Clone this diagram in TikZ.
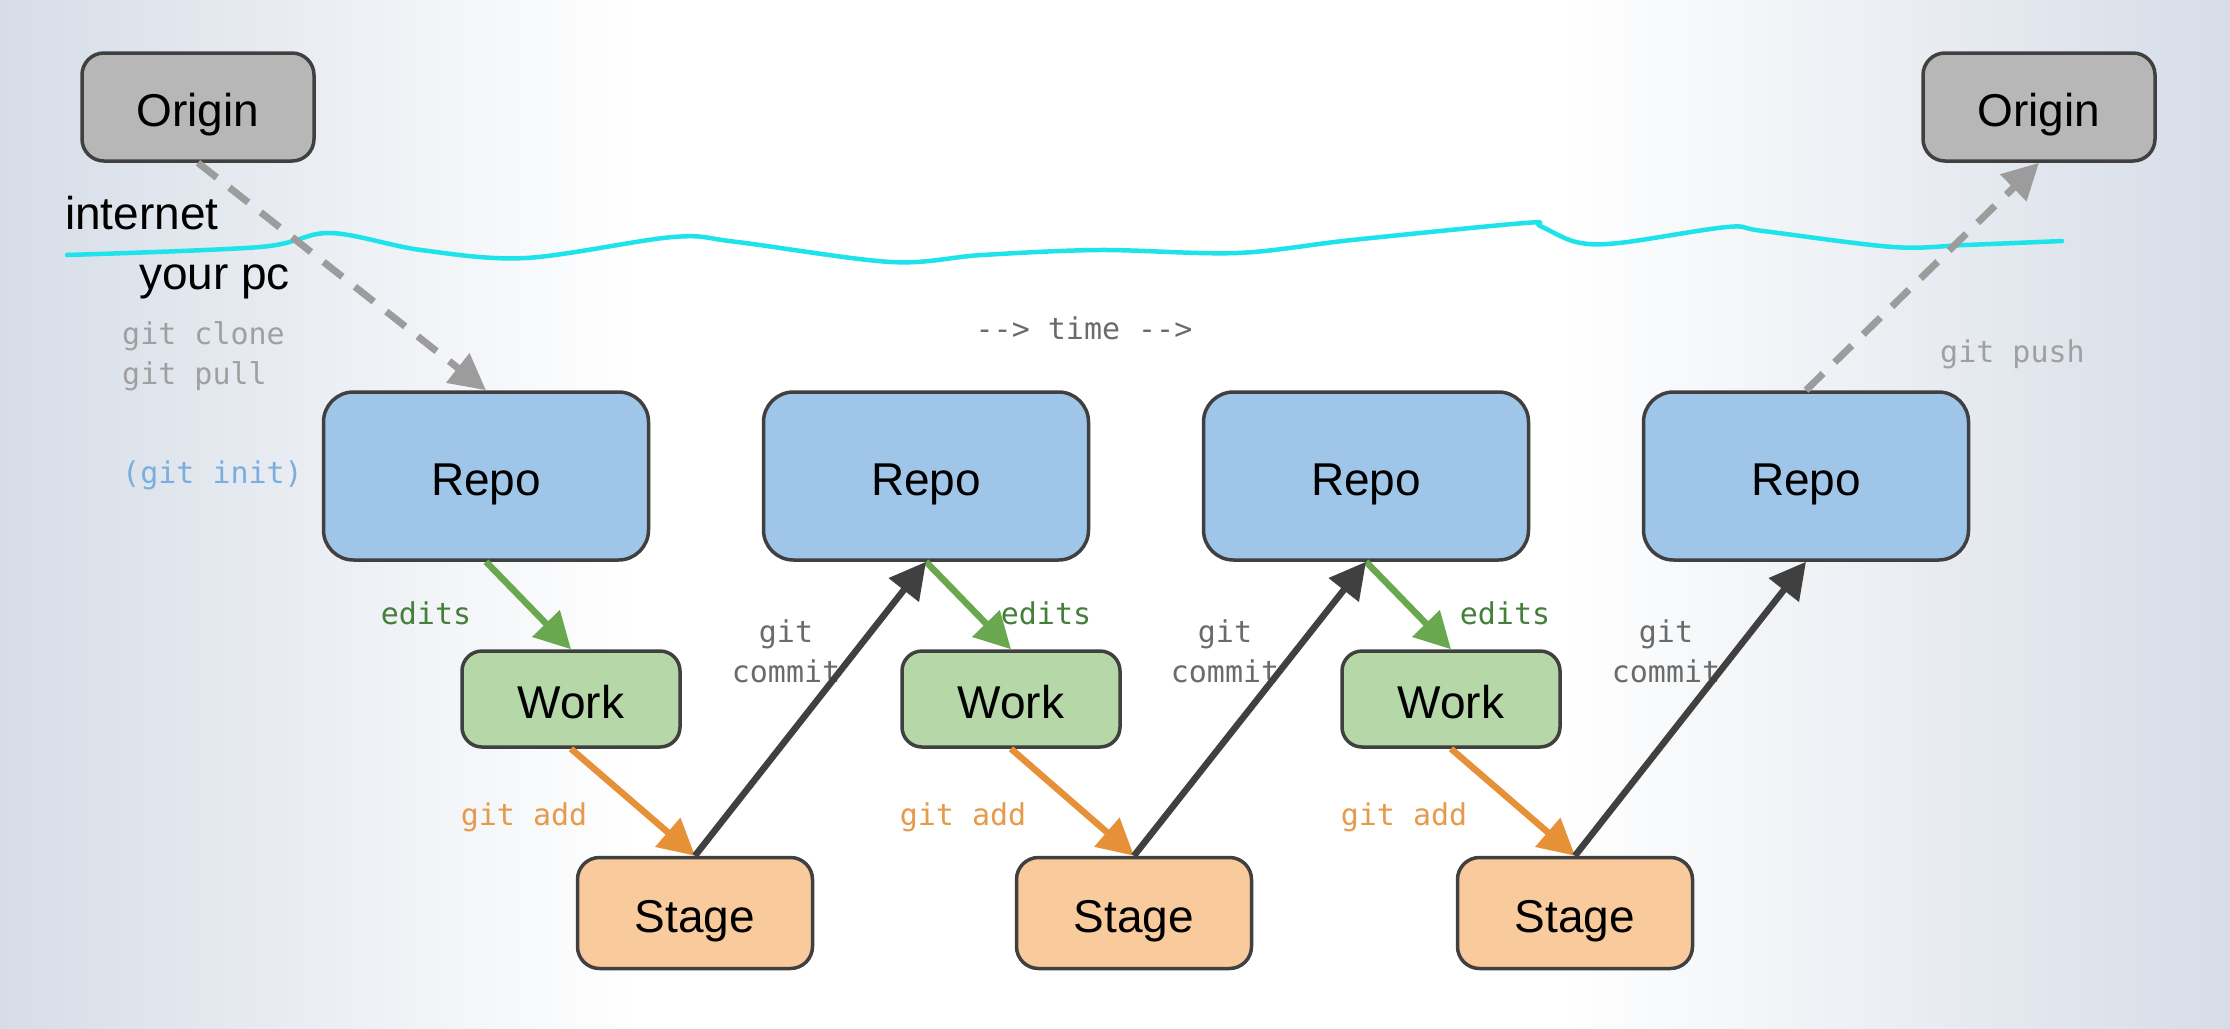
\documentclass[tikz,border=0pt]{standalone}
\usepackage{fontspec}
\setmainfont{Liberation Sans}
\newfontfamily\codefont{DejaVu Sans Mono}
\usetikzlibrary{arrows.meta}
\definecolor{bgside}{HTML}{D6DDE7}
\definecolor{boxline}{HTML}{404040}
\definecolor{repofill}{HTML}{9FC5E8}
\definecolor{workfill}{HTML}{B6D7A8}
\definecolor{stagefill}{HTML}{F9CB9C}
\definecolor{originfill}{HTML}{B7B7B7}
\definecolor{wavecol}{HTML}{1EE3EA}
\definecolor{editcol}{HTML}{6AA84F}
\definecolor{edittxt}{HTML}{45803A}
\definecolor{addcol}{HTML}{E69138}
\definecolor{addtxt}{HTML}{E69A4C}
\definecolor{commitcol}{HTML}{404040}
\definecolor{committxt}{HTML}{6B6B6B}
\definecolor{dashcol}{HTML}{9C9C9C}
\definecolor{lighttxt}{HTML}{A0A0A0}
\definecolor{inittxt}{HTML}{7AAEE0}
\begin{document}
\begin{tikzpicture}[x=1pt,y=-1pt,
  box/.style={draw=boxline, line width=3.5pt, font=\fontsize{46}{55}\selectfont, inner sep=0pt, text height=39pt, text depth=0pt},
  repo/.style={box, fill=repofill, minimum width=325pt, minimum height=168pt, rounded corners=30pt},
  work/.style={box, fill=workfill, minimum width=218pt, minimum height=96pt, rounded corners=20pt},
  stage/.style={box, fill=stagefill, minimum width=235pt, minimum height=111pt, rounded corners=22pt},
  origin/.style={box, fill=originfill, minimum width=232pt, minimum height=108pt, rounded corners=22pt},
  plain/.style={inner sep=0pt, font=\fontsize{46}{55}\selectfont},
  code/.style={inner sep=0pt, font=\codefont\fontsize{30}{40}\selectfont, align=center},
  arr/.style={line width=6.5pt, -{Triangle[length=36pt,width=37pt]}},
  editarr/.style={arr, draw=editcol, fill=editcol},
  addarr/.style={arr, draw=addcol, fill=addcol},
  commitarr/.style={arr, draw=commitcol, fill=commitcol},
  remotearr/.style={line width=7pt, draw=dashcol, dash pattern=on 24pt off 16pt, -{Triangle[length=36pt,width=36pt,fill=dashcol]}},
]
\useasboundingbox (0,0) rectangle (2230,1028);
% background
\fill[white] (0,0) rectangle (2230,1028);
\shade[left color=bgside, right color=white] (0,0) rectangle (640,1028);
\shade[left color=white, right color=bgside] (1560,0) rectangle (2230,1028);

% wave line
\draw[wavecol, line width=4.5pt, line cap=round, line join=round] plot[smooth, tension=0.55] coordinates {
 (67,255) (260,247) (330,233) (421,250) (526,258) (673,237) (737,242) (891,262) (982,255)
 (1100,250) (1237,253) (1352,240) (1525,223) (1540,226) (1576,242) (1619,243) (1727,227)
 (1763,231) (1893,247) (1965,245) (2062,241)};

% boxes
\node[origin] (o1) at (198,107) {Origin};
\node[origin] (o2) at (2039,107) {Origin};
\node[repo] (r1) at (486,476) {Repo};
\node[repo] (r2) at (926,476) {Repo};
\node[repo] (r3) at (1366,476) {Repo};
\node[repo] (r4) at (1806,476) {Repo};
\node[work] (w1) at (571,699) {Work};
\node[work] (w2) at (1011,699) {Work};
\node[work] (w3) at (1451,699) {Work};
\node[stage] (s1) at (695,913) {Stage};
\node[stage] (s2) at (1134,913) {Stage};
\node[stage] (s3) at (1575,913) {Stage};

% plain labels
\node[plain, anchor=west] (inet) at (65,213) {internet};
\node[plain, anchor=west] (pc) at (139,282) {your pc};
\node[code, anchor=west, align=left, text=lighttxt] (clone) at (122,356) {git clone\\git pull};
\node[code, anchor=west, text=inittxt] (init) at (122,475) {(git init)};
\node[code, text=committxt] (time) at (1084,328) {--> time -->};
\node[code, anchor=west, text=lighttxt] (push) at (1940,354) {git push};

% arrow labels
\node[code, text=edittxt] (e1) at (426,613) {edits};
\node[code, text=edittxt] (e2) at (1046,613) {edits};
\node[code, text=edittxt] (e3) at (1505,613) {edits};
\node[code, text=addtxt] (a1) at (524,817) {git add};
\node[code, text=addtxt] (a2) at (963,817) {git add};
\node[code, text=addtxt] (a3) at (1404,817) {git add};
\node[code, text=committxt] (c1) at (786,651) {git\\commit};
\node[code, text=committxt] (c2) at (1225,651) {git\\commit};
\node[code, text=committxt] (c3) at (1666,651) {git\\commit};

% arrows
\draw[remotearr] (o1.south) -- (r1.north);
\draw[remotearr] (r4.north) -- (o2.south);
\draw[editarr] (r1.south) -- (w1.north);
\draw[editarr] (r2.south) -- (w2.north);
\draw[editarr] (r3.south) -- (w3.north);
\draw[addarr] (w1.south) -- (s1.north);
\draw[addarr] (w2.south) -- (s2.north);
\draw[addarr] (w3.south) -- (s3.north);
\draw[commitarr] (s1.north) -- (r2.south);
\draw[commitarr] (s2.north) -- (r3.south);
\draw[commitarr] (s3.north) -- (r4.south);
\end{tikzpicture}
\end{document}
